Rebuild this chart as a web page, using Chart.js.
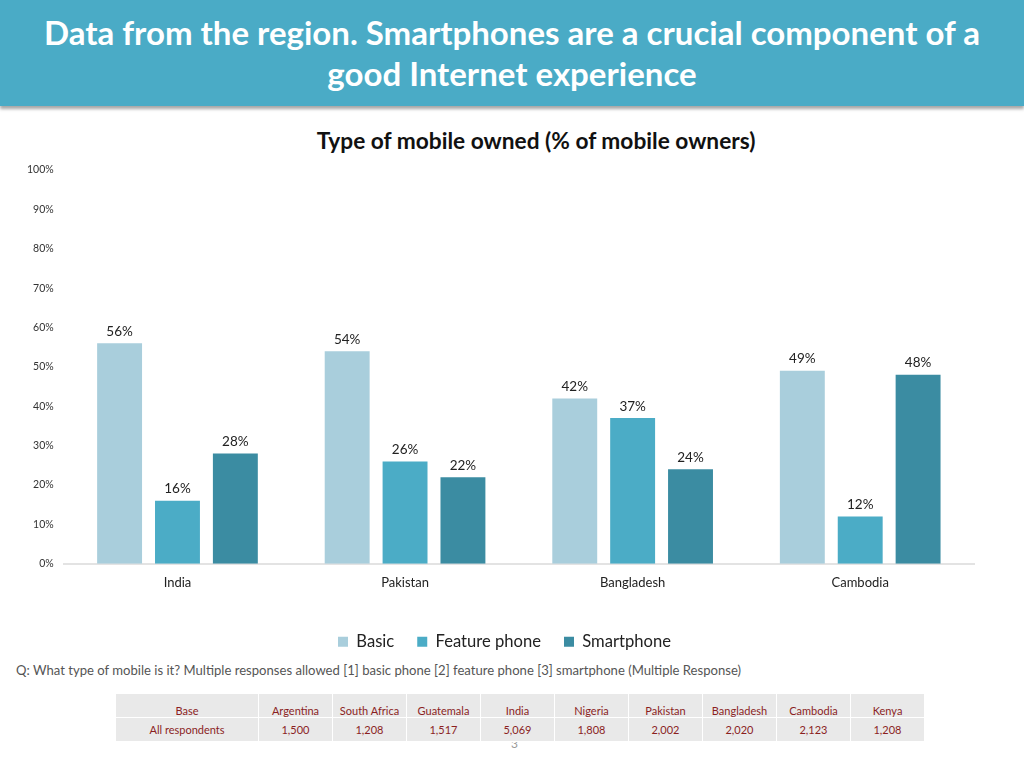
<!DOCTYPE html>
<html>
<head>
<meta charset="utf-8">
<script src="https://cdn.jsdelivr.net/npm/chart.js@4.4.1/dist/chart.umd.min.js"></script>
<style>
  html, body { margin: 0; padding: 0; background: #ffffff; }
  body { width: 1024px; height: 768px; position: relative; overflow: hidden; font-family: Lato, "Open Sans", sans-serif; }
  #header { position: absolute; left: 0; top: 0; width: 1024px; height: 106px; background: #4AABC6;
    box-shadow: 0 3px 3px rgba(0,0,0,0.35); color: #fff; font-weight: bold; font-size: 33px;
    text-align: center; line-height: 41px; padding-top: 12px; box-sizing: border-box; }
  #title { position: absolute; left: 0; width: 1072px; top: 127px; text-align: center; font-weight: bold;
    font-size: 22.7px; color: #111; }
  #chartBox { position: absolute; left: 0; top: 120px; width: 1024px; height: 540px; }
  #note { position: absolute; left: 16px; top: 662px; font-size: 13.1px; color: #555; white-space: nowrap; }
  table { position: absolute; left: 115px; top: 693px; border-collapse: collapse; font-size: 11px; color: #8B1F1F;
    table-layout: fixed; width: 809px; }
  td { background: #E9E9E9; border: 1px solid #fff; height: 23px; text-align: center; padding: 0; }
  tr.r1 td { padding-top: 9px; height: 14px; }
  #pg { position: absolute; left: 511px; top: 736px; font-size: 12px; color: #999; }
</style>
</head>
<body>
<div id="header">Data from the region. Smartphones are a crucial component of a<br>good Internet experience</div>
<div id="title">Type of mobile owned (% of mobile owners)</div>
<div id="chartBox"><canvas id="c"></canvas></div>
<div id="note">Q: What type of mobile is it? Multiple responses allowed [1] basic phone [2] feature phone [3] smartphone (Multiple Response)</div>
<div id="pg">3</div>
<table id="tbl"></table>
<script>
const categories = ["India", "Pakistan", "Bangladesh", "Cambodia"];
const basicValues = [56, 54, 42, 49];
const featureValues = [16, 26, 37, 12];
const smartValues = [28, 22, 24, 48];
const yTicks = [0, 10, 20, 30, 40, 50, 60, 70, 80, 90, 100];
const baseCountries = ["Argentina", "South Africa", "Guatemala", "India", "Nigeria", "Pakistan", "Bangladesh", "Cambodia", "Kenya"];
const baseCounts = ["1,500", "1,208", "1,517", "5,069", "1,808", "2,002", "2,020", "2,123", "1,208"];

// table
const tbl = document.getElementById('tbl');
const widths = [143, 74, 74, 74, 74, 74, 74, 74, 74, 74];
let cg = '<colgroup>' + widths.map(w => '<col style="width:' + w + 'px">').join('') + '</colgroup>';
let r1 = '<tr class="r1"><td>Base</td>';
let r2 = '<tr><td>All respondents</td>';
baseCountries.forEach((c, i) => { r1 += '<td>' + c + '</td>'; r2 += '<td>' + baseCounts[i] + '</td>'; });
tbl.innerHTML = cg + r1 + '</tr>' + r2 + '</tr>';

const valueLabels = {
  id: 'valueLabels',
  afterDatasetsDraw(chart) {
    const ctx = chart.ctx;
    ctx.save();
    ctx.font = '13.5px Lato, "Open Sans", sans-serif';
    ctx.fillStyle = '#222';
    ctx.textAlign = 'center';
    ctx.textBaseline = 'bottom';
    chart.data.datasets.forEach((ds, di) => {
      const meta = chart.getDatasetMeta(di);
      meta.data.forEach((bar, i) => {
        ctx.fillText(ds.data[i] + '%', bar.x, bar.y - 5);
      });
    });
    ctx.restore();
  }
};

const legendShift = {
  id: 'legendShift',
  afterLayout(chart) { if (chart.legend) { chart.legend.left += 18; } }
};

new Chart(document.getElementById('c'), {
  type: 'bar',
  data: {
    labels: categories,
    datasets: [
      { label: 'Basic', data: basicValues, backgroundColor: '#A9CEDC' },
      { label: 'Feature phone', data: featureValues, backgroundColor: '#4BACC6' },
      { label: 'Smartphone', data: smartValues, backgroundColor: '#3B8CA2' }
    ]
  },
  options: {
    responsive: true,
    maintainAspectRatio: false,
    animation: false,
    layout: { padding: { left: 17, right: 50, top: 50, bottom: 0 } },
    datasets: { bar: { categoryPercentage: 0.763, barPercentage: 0.776 } },
    plugins: {
      title: { display: false },
      legend: { position: 'bottom', labels: { color: '#222', boxWidth: 10, boxHeight: 10, padding: 23,
        font: { family: 'Lato, "Open Sans", sans-serif', size: 16.6 } } },
      tooltip: { enabled: false }
    },
    scales: {
      x: {
        grid: { display: false, drawTicks: false },
        border: { display: true, color: '#E3E3E3', width: 2 },
        ticks: { color: '#222', padding: 11, font: { family: 'Lato, "Open Sans", sans-serif', size: 13 } },
        afterFit(scale) { scale.height += 9; }
      },
      y: {
        min: 0, max: 100,
        afterBuildTicks(axis) { axis.ticks = yTicks.map(v => ({ value: v })); },
        grid: { display: false, drawTicks: false },
        border: { display: false },
        ticks: { color: '#333', padding: 10, font: { family: 'Lato, "Open Sans", sans-serif', size: 10.5 },
          callback: v => v + '%' }
      }
    }
  },
  plugins: [valueLabels, legendShift]
});
</script>
</body>
</html>
